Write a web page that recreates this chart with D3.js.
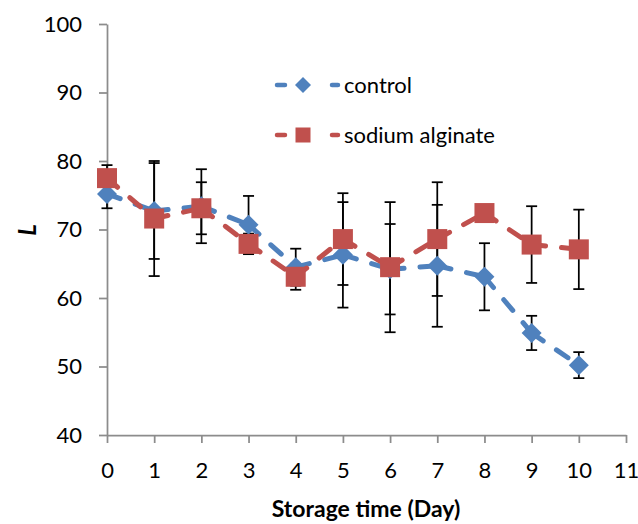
<!DOCTYPE html>
<html>
<head>
<meta charset="utf-8">
<script src="https://cdn.jsdelivr.net/npm/d3@7/dist/d3.min.js"></script>
<style>
  html, body { margin: 0; padding: 0; background: #fff; }
  svg { display: block; font-family: "Lato", "Open Sans", sans-serif; }
</style>
</head>
<body>
<svg id="chart" width="638" height="524"></svg>
<script>
// ---- data ----
const days = [0, 1, 2, 3, 4, 5, 6, 7, 8, 9, 10];
const controlValues = [75.2, 72.7, 73.4, 70.7, 64.5, 66.3, 64.2, 64.7, 63.1, 54.9, 50.2];
const controlErrors = [2.1, 7.0, 5.4, 4.2, 2.7, 7.7, 6.6, 8.9, 4.9, 2.5, 1.9];
const sodiumValues = [77.5, 71.6, 73.1, 67.9, 63.1, 68.6, 64.5, 68.6, 72.4, 67.8, 67.1];
const sodiumErrors = [1.9, 8.4, 3.8, 1.5, 1.9, 6.7, 9.5, 8.3, 0.5, 5.6, 5.8];
const seriesNames = ["control", "sodium alginate"];
const xTicks = [0, 1, 2, 3, 4, 5, 6, 7, 8, 9, 10, 11];
const yTicks = [40, 50, 60, 70, 80, 90, 100];
const xTitle = "Storage time (Day)";
const yTitle = "L";

const BLUE = "#4F81BD", RED = "#C0504D", AXIS = "#8c8c8c";

const svg = d3.select("#chart");
const x = d3.scaleLinear().domain([0, 11]).range([107, 626]);
const y = d3.scaleLinear().domain([40, 100]).range([435, 24]);

// axes
const yAxis = svg.append("g").attr("transform", `translate(${x(0)},0)`)
  .call(d3.axisLeft(y).tickValues(yTicks).tickSize(8).tickSizeOuter(0).tickPadding(17));
const xAxis = svg.append("g").attr("transform", `translate(0,${y(40)})`)
  .call(d3.axisBottom(x).tickValues(xTicks).tickSize(8).tickSizeOuter(0).tickPadding(19));
[xAxis, yAxis].forEach(g => {
  g.selectAll("path, line").attr("stroke", AXIS).attr("stroke-width", 1.75);
  g.selectAll("text").attr("fill", "#000").style("font-size", "22px").style("font-family", "Lato");
});

// axis titles
svg.append("text").attr("x", 366).attr("y", 517).attr("text-anchor", "middle")
  .style("font-size", "23px").style("font-weight", "bold").text(xTitle);
svg.append("text").attr("transform", "translate(36,230) rotate(-90)")
  .attr("text-anchor", "middle")
  .style("font-size", "24px").style("font-weight", "bold").style("font-style", "italic").text(yTitle);

const series = [
  { name: seriesNames[0], values: controlValues, errors: controlErrors, color: BLUE, shape: "diamond" },
  { name: seriesNames[1], values: sodiumValues, errors: sodiumErrors, color: RED, shape: "square" }
];

// error bars (under everything)
const capW = 5.5;
series.forEach(s => {
  const g = svg.append("g").attr("stroke", "#000").attr("stroke-width", 1.75);
  days.forEach((d, i) => {
    const cx = x(d), lo = y(s.values[i] - s.errors[i]), hi = y(s.values[i] + s.errors[i]);
    g.append("line").attr("x1", cx).attr("x2", cx).attr("y1", lo).attr("y2", hi);
    g.append("line").attr("x1", cx - capW).attr("x2", cx + capW).attr("y1", lo).attr("y2", lo);
    g.append("line").attr("x1", cx - capW).attr("x2", cx + capW).attr("y1", hi).attr("y2", hi);
  });
});

const line = d3.line().x(p => x(p[0])).y(p => y(p[1]));
function marker(g, shape, cx, cy, color, r) {
  if (shape === "diamond") {
    g.append("path").attr("d", `M${cx},${cy - r}L${cx + r},${cy}L${cx},${cy + r}L${cx - r},${cy}Z`).attr("fill", color);
  } else {
    g.append("rect").attr("x", cx - r).attr("y", cy - r).attr("width", 2 * r).attr("height", 2 * r).attr("fill", color);
  }
}

series.forEach(s => {
  const pts = days.map((d, i) => [d, s.values[i]]);
  const g = svg.append("g");
  d3.pairs(pts).forEach(pair => {
    g.append("path").attr("d", line(pair)).attr("fill", "none")
      .attr("stroke", s.color).attr("stroke-width", 5)
      .attr("stroke-linecap", "round").attr("stroke-dasharray", "14,16");
  });
  pts.forEach(p => marker(g, s.shape, x(p[0]), y(p[1]), s.color, s.shape === "diamond" ? 10 : 10));
});

// legend
const legendRows = [85, 135];
series.forEach((s, i) => {
  const ly = legendRows[i];
  const g = svg.append("g");
  g.append("line").attr("x1", 277).attr("x2", 338).attr("y1", ly).attr("y2", ly)
    .attr("stroke", s.color).attr("stroke-width", 4.5).attr("stroke-linecap", "round")
    .attr("stroke-dasharray", "8,47");
  marker(g, s.shape, 303, ly, s.color, s.shape === "diamond" ? 8 : 7.5);
  g.append("text").attr("x", 344).attr("y", ly + 7.5).style("font-size", "22px").attr("fill", "#000").text(s.name);
});
</script>
</body>
</html>
